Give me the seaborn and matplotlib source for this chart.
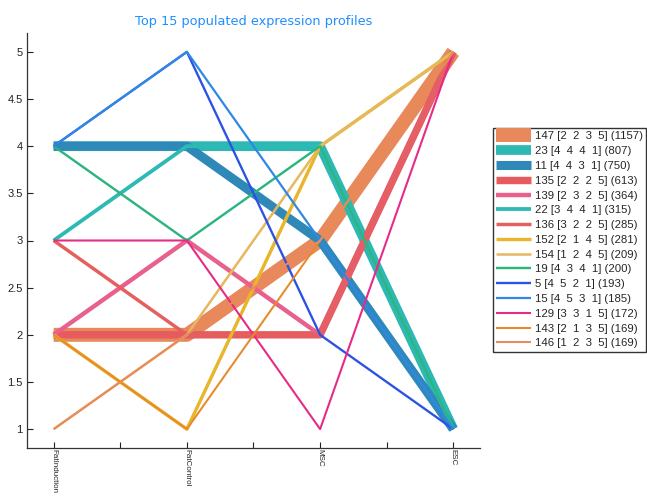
import matplotlib
matplotlib.use("Agg")
import matplotlib.pyplot as plt
import matplotlib.ticker as mticker
from matplotlib.lines import Line2D
import numpy as np
import pandas as pd
import seaborn as sns

# Conditions along the x axis
conditions = ["FatInduction", "FatControl", "MSC", "ESC"]

# Profile ids, their expression levels per condition and gene counts
profile_ids = [147, 23, 11, 135, 139, 22, 136, 152, 154, 19, 5, 15, 129, 143, 146]
profile_levels = [
    [2, 2, 3, 5],
    [4, 4, 4, 1],
    [4, 4, 3, 1],
    [2, 2, 2, 5],
    [2, 3, 2, 5],
    [3, 4, 4, 1],
    [3, 2, 2, 5],
    [2, 1, 4, 5],
    [1, 2, 4, 5],
    [4, 3, 4, 1],
    [4, 5, 2, 1],
    [4, 5, 3, 1],
    [3, 3, 1, 5],
    [2, 1, 3, 5],
    [1, 2, 3, 5],
]
profile_counts = [1157, 807, 750, 613, 364, 315, 285, 281, 209, 200, 193, 185, 172, 169, 169]
profile_colors = [
    "#E8895C", "#2DB8B4", "#2E88B8", "#E55B5E", "#E8608C",
    "#2EBAB4", "#E55F5F", "#E8B62C", "#E6B860", "#2DB580",
    "#2B52E2", "#2F88E6", "#E72A88", "#E88A2C", "#E8895E",
]

sns.set_style("ticks")
plt.rcParams["font.family"] = ["Liberation Sans", "DejaVu Sans"]

fig = plt.figure(figsize=(6.47, 4.98), dpi=100)
ax = fig.add_axes([27 / 647, 1 - 448 / 498, (480 - 27) / 647, (448 - 33) / 498])

x_pos = np.arange(len(conditions))
handles = []
for pid, levels, count, color in zip(profile_ids, profile_levels, profile_counts, profile_colors):
    df = pd.DataFrame({"pos": x_pos, "level": levels})
    lw = count / 115.0
    sns.lineplot(data=df, x="pos", y="level", ax=ax, color=color, linewidth=lw,
                 sort=False, estimator=None, solid_capstyle="butt", legend=False)
    label = f"{pid} [{levels[0]}  {levels[1]}  {levels[2]}  {levels[3]}] ({count})"
    handles.append(Line2D([0], [0], color=color, linewidth=lw, label=label,
                          solid_capstyle="butt"))

ax.set_xlim(-0.2, 3.2)
ax.set_ylim(0.8, 5.2)
ax.set_xticks(x_pos)
ax.set_xticklabels(conditions, rotation=270, fontsize=5.8, va="top", ha="center")
ax.xaxis.set_minor_locator(mticker.FixedLocator([0.5, 1.5, 2.5]))
ax.set_yticks([1, 1.5, 2, 2.5, 3, 3.5, 4, 4.5, 5])
ax.yaxis.set_major_formatter(mticker.FuncFormatter(lambda v, p: f"{v:g}"))
ax.tick_params(axis="y", direction="in", length=4, width=0.8, labelsize=8, pad=3,
               colors="#222222")
ax.tick_params(axis="x", which="both", direction="in", length=4, width=0.8, pad=1,
               colors="#222222")
ax.set_xlabel("")
ax.set_ylabel("")
for side in ("top", "right"):
    ax.spines[side].set_visible(False)
for side in ("left", "bottom"):
    ax.spines[side].set_color("#333333")
    ax.spines[side].set_linewidth(0.9)

ax.set_title("Top 15 populated expression profiles", color="#1E8FFF", fontsize=9.3,
             family=["DejaVu Sans"], pad=6)

leg = fig.legend(handles=handles, loc="upper left", bbox_to_anchor=(493 / 647, 1 - 128 / 498),
                 fontsize=8.2, frameon=True, fancybox=False, handlelength=3.0,
                 handletextpad=0.35, borderpad=0.3, labelspacing=0.42, borderaxespad=0)
leg.get_frame().set_edgecolor("black")
leg.get_frame().set_linewidth(1.0)

fig.savefig("out.png", dpi=100)
